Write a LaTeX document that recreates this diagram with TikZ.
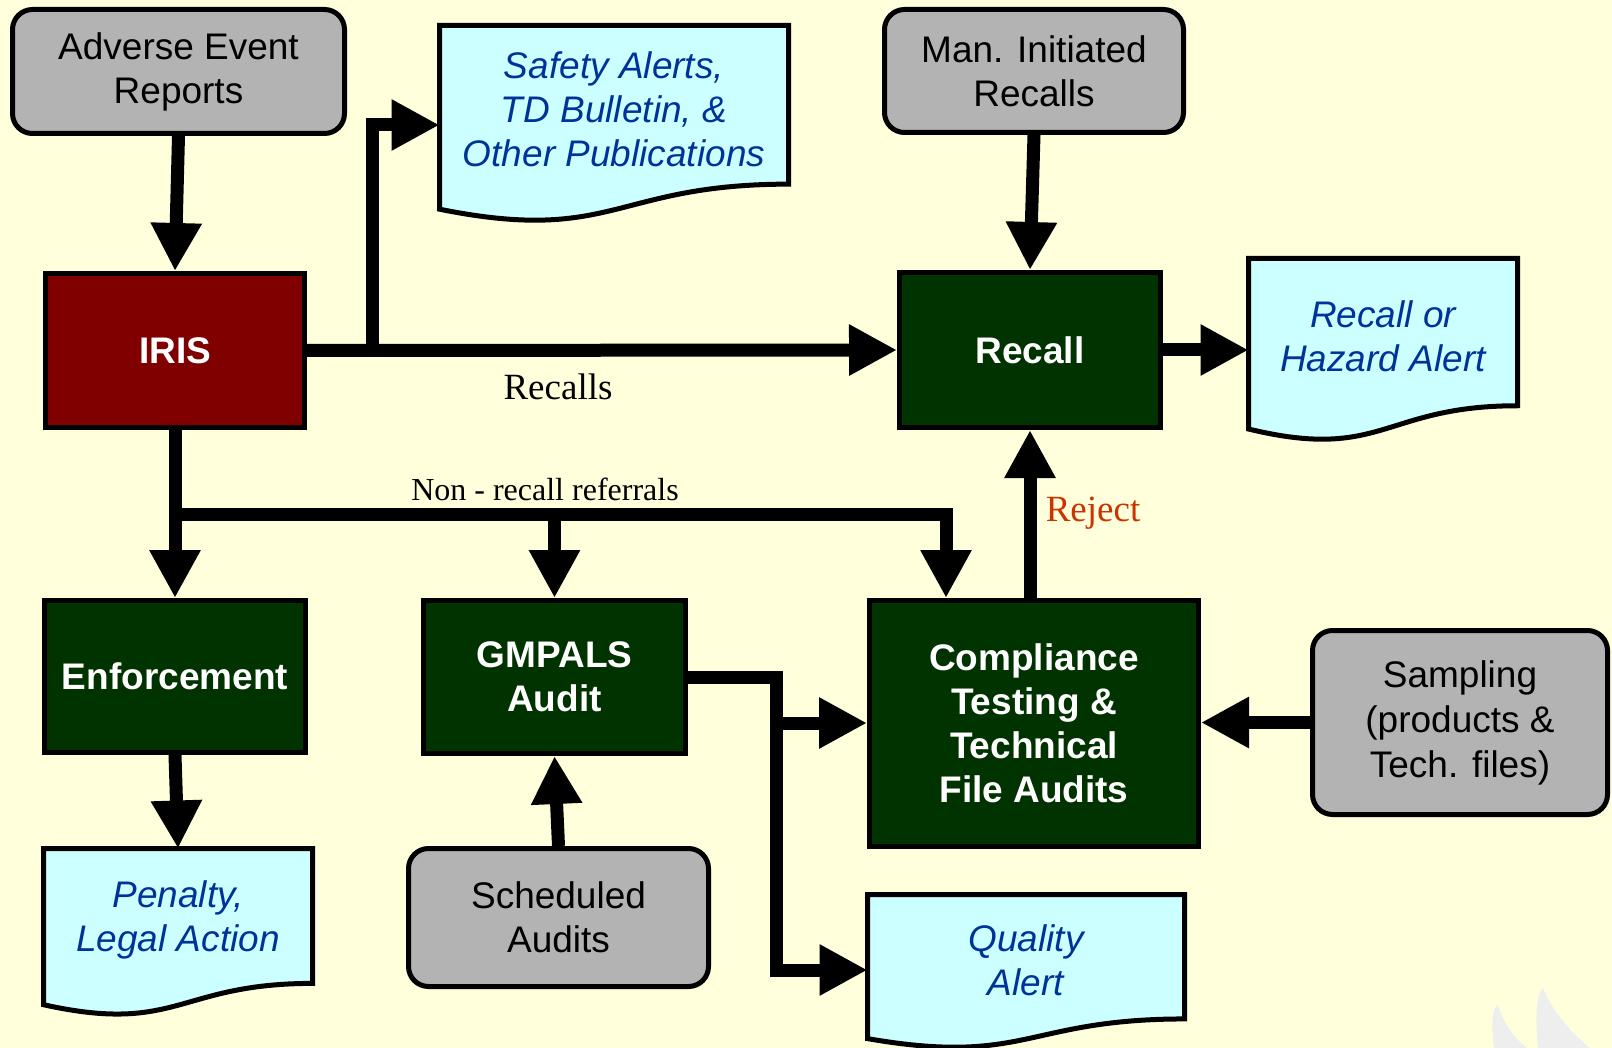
\documentclass[tikz,border=0pt]{standalone}
\usepackage{fontspec}
\setmainfont{Liberation Sans}
\newfontfamily\labelfont{Liberation Serif}
\usetikzlibrary{arrows.meta,calc}

\definecolor{paper}{HTML}{FFFFDC}
\definecolor{boxgray}{HTML}{B3B3B3}
\definecolor{boxgreen}{HTML}{003300}
\definecolor{boxred}{HTML}{800000}
\definecolor{sheetcyan}{HTML}{CCFFFF}
\definecolor{sheetblue}{HTML}{003399}
\definecolor{rejectred}{HTML}{CC3300}
\definecolor{markgray}{HTML}{EEEEEE}

% paper and document sheets sit below the text
\pgfdeclarelayer{sheets}
\pgfsetlayers{sheets,main}

\tikzset{
  big/.style={font=\fontsize{37}{44}\selectfont, align=center, inner sep=0pt},
  graybox/.style={big, draw, line width=5pt, rounded corners=20pt, fill=boxgray},
  darkbox/.style={big, draw, line width=5pt, fill=boxgreen, text=white,
    font=\fontsize{37}{44}\selectfont\bfseries},
  docbox/.style={big, outer sep=0pt, text=sheetblue,
    font=\fontsize{37}{44}\selectfont\itshape},
  sheetline/.style={line width=5pt, draw=black, fill=sheetcyan},
  wire/.style={line width=13pt},
  flow/.style={wire, -{Triangle[length=48pt,width=48pt]}},
  lbl/.style={font=\labelfont\fontsize{37}{44}\selectfont, inner sep=0pt}
}

% document outline with a wavy lower edge
\newcommand{\docsheet}[1]{%
  \filldraw[sheetline] (#1.north west) -- (#1.north east)
    -- ($(#1.north east)!0.95!(#1.south east)$)
    .. controls ($(#1.north)!0.95!(#1.south)$) and ($(#1.north)!1.31!(#1.south)$)
    .. ($(#1.north west)!1.10!(#1.south west)$) -- cycle;}

\begin{document}
\begin{tikzpicture}[x=1pt, y=-1pt]
  \useasboundingbox (0,0) rectangle (1612,1048);

  % faint leaves in the lower right corner
  \fill[markgray] (1494,1048) .. controls (1491,1025) and (1492,1008) .. (1498,1005)
    .. controls (1503,1022) and (1512,1036) .. (1527,1048) -- cycle;
  \fill[markgray] (1538,1048) .. controls (1535,1020) and (1536,995) .. (1543,988)
    .. controls (1552,1010) and (1568,1030) .. (1590,1048) -- cycle;

  % sources
  \node[graybox, minimum width=332pt, minimum height=124pt] (adverse) at (178.5,71.5) {Adverse Event\\Reports};
  \node[graybox, minimum width=299pt, minimum height=123pt] (maninit) at (1034,71) {Man. Initiated\\Recalls};
  \node[graybox, minimum width=295pt, minimum height=184pt,
    font=\fontsize{37}{45}\selectfont] (sampling) at (1460,722.5) {Sampling\\(products \&\\Tech. files)};
  \node[graybox, minimum width=300pt, minimum height=138pt] (sched) at (558.5,917.5) {Scheduled\\Audits};

  % processes
  \node[darkbox, fill=boxred, minimum width=259pt, minimum height=154pt] (iris) at (175,350.5) {IRIS};
  \node[darkbox, minimum width=261pt, minimum height=155pt] (recall) at (1030,350) {Recall};
  \node[darkbox, minimum width=261pt, minimum height=152pt] (enforce) at (175,676.5) {Enforcement};
  \node[darkbox, minimum width=262pt, minimum height=153pt] (gmpals) at (554.5,677) {GMPALS\\Audit};
  \node[darkbox, minimum width=329pt, minimum height=246pt] (compliance) at (1034,723.5) {Compliance\\Testing \&\\Technical\\File Audits};

  % outputs
  \node[docbox, minimum width=349pt, minimum height=167pt] (safety) at (614,109) {Safety Alerts,\\TD Bulletin, \&\\Other Publications};
  \node[docbox, minimum width=269pt, minimum height=155pt] (hazard) at (1383,336) {Recall or\\Hazard Alert};
  \node[docbox, minimum width=269pt, minimum height=142pt] (penalty) at (178,919.5) {Penalty,\\Legal Action};
  \node[docbox, minimum width=317pt, minimum height=131pt] (quality) at (1026,960) {Quality\\Alert};

  \begin{pgfonlayer}{sheets}
    \fill[paper] (0,0) rectangle (1612,1048);
    \docsheet{safety}
    \docsheet{hazard}
    \docsheet{penalty}
    \docsheet{quality}
  \end{pgfonlayer}

  % junction points
  \coordinate (spur) at (372,350.5);
  \coordinate (split) at (175,514);
  \coordinate (drop) at (946,514);
  \coordinate (fork) at (776,723);

  % connectors
  \draw[flow] (adverse.south) -- (iris.north);
  \draw[flow] (iris.east) -- (recall.west);
  \draw[flow] (spur) |- ([yshift=-16pt]safety.west);
  \draw[flow] (maninit.south) -- (recall.north);
  \draw[flow] (recall.east) -- (recall.east -| hazard.west);
  \draw[flow] (iris.south) -- (enforce.north);
  \draw[flow] (split) -- (drop) -- (drop |- compliance.north);
  \draw[flow] (split -| gmpals.north) -- (gmpals.north);
  \draw[flow] (compliance.north -| recall.south) -- (recall.south);
  \draw[flow] (gmpals.east) -| (fork) |- ([yshift=-10pt]quality.west);
  \draw[flow] (fork) -- (fork -| compliance.west);
  \draw[flow] (sampling.west) -- (sampling.west -| compliance.east);
  \draw[flow] (sched.north) -- (gmpals.south);
  \draw[flow] (enforce.south) -- (penalty.north);

  % connector labels
  \node[lbl] (recallslbl) at (558,387) {Recalls};
  \node[lbl, font=\labelfont\fontsize{32}{38}\selectfont] (referlbl) at (545,489) {Non - recall referrals};
  \node[lbl, text=rejectred] (rejectlbl) at (1093,513) {Reject};
\end{tikzpicture}
\end{document}
